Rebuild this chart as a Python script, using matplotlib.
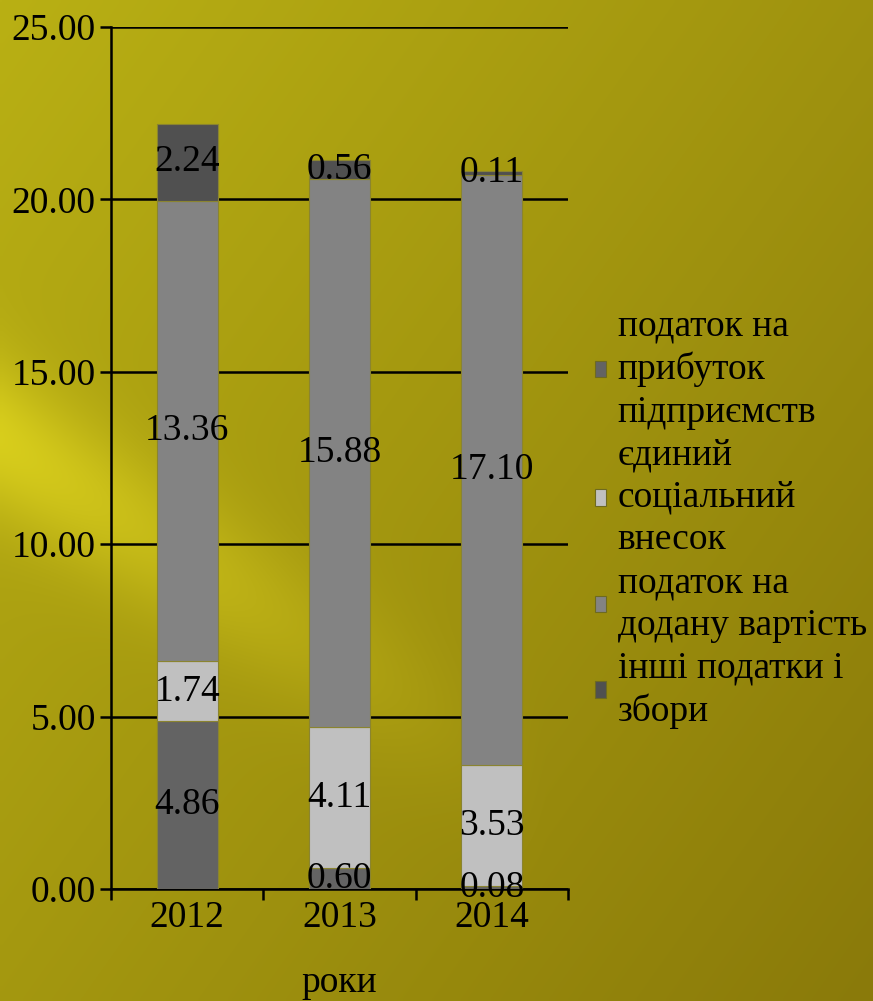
import numpy as np
import matplotlib
matplotlib.use('Agg')
import matplotlib.pyplot as plt
from matplotlib.ticker import FixedLocator, FormatStrFormatter

plt.rcParams['font.family'] = ['Liberation Serif', 'DejaVu Serif']

years = ['2012', '2013', '2014']
profit_tax = [4.86, 0.60, 0.08]
social_tax = [1.74, 4.11, 3.53]
vat = [13.36, 15.88, 17.10]
other_tax = [2.24, 0.56, 0.11]

series = [
    (profit_tax, 'податок на\nприбуток\nпідприємств', '#636363'),
    (social_tax, 'єдиний\nсоціальний\nвнесок', '#c0c0c0'),
    (vat, 'податок на\nдодану вартість', '#838383'),
    (other_tax, 'інші податки і\nзбори', '#505050'),
]
FS = 27

fig = plt.figure(figsize=(8.73, 10.01), dpi=100)

# olive-yellow gradient background
bg = fig.add_axes([0, 0, 1, 1], zorder=-10)
h, w = 200, 175
yy, xx = np.mgrid[0:1:h*1j, 0:1:w*1j]
dark = np.array([138, 122, 10]) / 255
light = np.array([185, 176, 20]) / 255
t = np.clip(0.55 * xx + 0.45 * yy, 0, 1)
img = light[None, None, :] * (1 - t[..., None]) + dark[None, None, :] * t[..., None]
# bright diagonal streak from the left
d = (yy - 0.44) - 0.55 * xx
band = np.exp(-(d / 0.08) ** 2) * np.clip(1 - xx * 1.6, 0, 1)
img = img + band[..., None] * (np.array([40, 40, 10]) / 255)
bg.imshow(np.clip(img, 0, 1), aspect='auto', extent=[0, 1, 0, 1], interpolation='bilinear')
bg.set_axis_off()

ax = fig.add_axes([111/873, 1-889/1001, (568-111)/873, (889-27)/1001])
ax.set_facecolor('none')

x = np.arange(len(years))
bottom = np.zeros(len(years))
for vals, label, color in series:
    bars = ax.bar(x, vals, width=0.4, bottom=bottom, color=color, label=label,
                  edgecolor='#8a8430', linewidth=0.8, zorder=3)
    ax.bar_label(bars, fmt='%.2f', label_type='center', fontsize=FS, color='black', zorder=4)
    bottom += np.array(vals)

ax.set_ylim(0, 25)
ax.set_xlim(-0.5, 2.5)
ax.set_yticks(np.arange(0, 26, 5))
ax.yaxis.set_major_formatter(FormatStrFormatter('%.2f'))
ax.yaxis.grid(True, color='black', linewidth=1.8, zorder=1)
ax.set_axisbelow(True)

ax.set_xticks(x)
ax.set_xticklabels(years)
ax.xaxis.set_minor_locator(FixedLocator([-0.5, 0.5, 1.5, 2.5]))
ax.tick_params(axis='x', which='major', length=0, pad=8, labelsize=FS)
ax.tick_params(axis='x', which='minor', length=8, width=1.8, direction='out')
ax.tick_params(axis='y', length=8, width=1.8, pad=3, labelsize=FS)

for s in ['top', 'right']:
    ax.spines[s].set_visible(False)
for s in ['left', 'bottom']:
    ax.spines[s].set_linewidth(1.8)
    ax.spines[s].set_color('black')

ax.set_xlabel('роки', fontsize=FS, labelpad=22)

leg = fig.legend(loc='upper left', bbox_to_anchor=(595/873, 1-309/1001), frameon=False,
                 fontsize=FS, handlelength=0.3, handleheight=0.3, handletextpad=0.3,
                 labelspacing=0.22, borderpad=0, borderaxespad=0)
for txt in leg.get_texts():
    txt.set_linespacing(1.3)
for p in leg.get_patches():
    p.set_edgecolor('#6e6a20')

fig.savefig('out.png', dpi=100)
